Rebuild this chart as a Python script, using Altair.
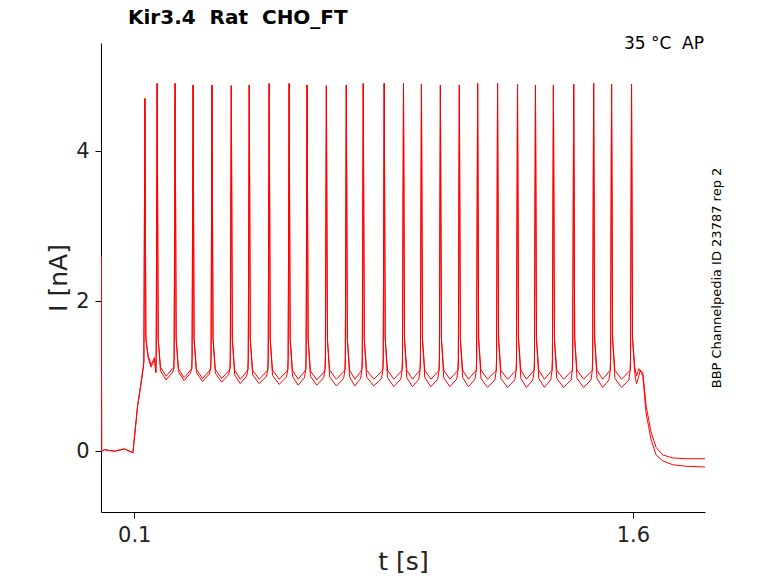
import altair as alt
import pandas as pd

# spike times (s) and peak currents (nA)
spike_t = [0.132, 0.169, 0.223, 0.277, 0.334, 0.392, 0.446, 0.506, 0.566, 0.620,
           0.678, 0.738, 0.789, 0.852, 0.910, 0.964, 1.021, 1.078, 1.133, 1.193,
           1.253, 1.307, 1.361, 1.422, 1.482, 1.536, 1.596]
spike_peak = [4.70, 4.90, 4.90, 4.88, 4.88, 4.87, 4.88, 4.90, 4.90, 4.88,
              4.87, 4.88, 4.90, 4.90, 4.90, 4.89, 4.88, 4.88, 4.90, 4.90,
              4.89, 4.88, 4.88, 4.89, 4.90, 4.89, 4.89]
trough_a = [1.15, 1.00, 0.98, 0.97, 0.97, 0.96, 0.96, 0.96, 0.96, 0.95,
            0.96, 0.96, 0.96, 0.96, 0.96, 0.96, 0.96, 0.96, 0.96, 0.96,
            0.96, 0.96, 0.96, 0.96, 0.96, 0.96, 1.00]
trough_b = [1.12, 0.95, 0.94, 0.93, 0.92, 0.90, 0.90, 0.89, 0.88, 0.88,
            0.87, 0.87, 0.87, 0.86, 0.86, 0.86, 0.86, 0.86, 0.85, 0.85,
            0.85, 0.85, 0.85, 0.85, 0.85, 0.85, 0.90]
pre_spike = [1.20, 1.25, 1.25, 1.25, 1.25, 1.24, 1.24, 1.24, 1.24, 1.24,
             1.24, 1.24, 1.24, 1.24, 1.24, 1.23, 1.23, 1.23, 1.23, 1.23,
             1.23, 1.23, 1.23, 1.23, 1.23, 1.23, 1.23]

# onset and offset segments
onset_t = [0.001, 0.002, 0.010, 0.040, 0.070, 0.096, 0.110, 0.122, 0.128]
onset_i = [2.60, 0.00, 0.02, 0.00, 0.03, -0.02, 0.60, 0.95, 1.15]
offset_t = [1.630, 1.640, 1.655, 1.670, 1.690, 1.720, 1.760, 1.817]
offset_a = [1.05, 0.60, 0.25, 0.05, -0.05, -0.09, -0.10, -0.10]
offset_b = [1.00, 0.50, 0.15, -0.05, -0.13, -0.18, -0.20, -0.21]

rows = []
for rep, troughs, off in [("a", trough_a, offset_a), ("b", trough_b, offset_b)]:
    pts = list(zip(onset_t, onset_i))
    for k, t in enumerate(spike_t):
        nxt = spike_t[k + 1] if k + 1 < len(spike_t) else 1.626
        pts += [(t - 0.003, pre_spike[k]), (t, spike_peak[k]), (t + 0.003, 1.5),
                (t + 0.010, troughs[k] + 0.12), ((t + nxt) / 2, troughs[k]),
                (nxt - 0.008, troughs[k] + 0.1), (nxt - 0.004, pre_spike[k] - 0.15)]
    pts += list(zip(offset_t, off))
    for o, (t, v) in enumerate(pts):
        rows.append({"t": t, "I": v, "rep": rep, "o": o})
df = pd.DataFrame(rows)

line = alt.Chart(df).mark_line(color="red", strokeWidth=1, clip=True).encode(
    x=alt.X("t:Q", title="t [s]", scale=alt.Scale(domain=[0, 1.817], nice=False, zero=False),
            axis=alt.Axis(values=[0.1, 1.6], format=".1f", grid=False)),
    y=alt.Y("I:Q", title="I [nA]", scale=alt.Scale(domain=[-0.81, 5.44], nice=False),
            axis=alt.Axis(values=[0, 2, 4], grid=False)),
    detail="rep:N",
    order="o:Q",
)

title_text = alt.Chart(pd.DataFrame({"s": ["Kir3.4\u00a0\u00a0Rat\u00a0\u00a0CHO_FT"]})).mark_text(
    align="left", baseline="bottom", fontSize=20, font="DejaVu Sans", fontWeight="bold"
).encode(x=alt.value(27), y=alt.value(-15), text="s:N")

top_text = alt.Chart(pd.DataFrame({"s": ["35 °C\u00a0\u00a0AP"]})).mark_text(
    align="right", baseline="bottom", fontSize=17, font="DejaVu Sans"
).encode(x=alt.value(603), y=alt.value(10), text="s:N")

side_text = alt.Chart(pd.DataFrame({"s": ["BBP Channelpedia ID 23787 rep 2"]})).mark_text(
    angle=270, align="center", baseline="middle", fontSize=13, font="DejaVu Sans"
).encode(x=alt.value(616), y=alt.value(235), text="s:N")

chart = (line + title_text + top_text + side_text).properties(
    width=604, height=469,
    autosize=alt.AutoSizeParams(type="none"),
    padding={"left": 93, "top": 35, "right": 65, "bottom": 63},
).configure_view(stroke=None).configure_axis(
    labelFont="DejaVu Sans", titleFont="DejaVu Sans", labelFontSize=21, titleFontSize=25,
    titleFontWeight="normal", domainColor="black", tickColor="black", labelColor="#222",
    titleColor="#222", tickSize=6, labelPadding=6,
)

chart.save("out.html", embed_options={"renderer": "svg", "actions": False})
